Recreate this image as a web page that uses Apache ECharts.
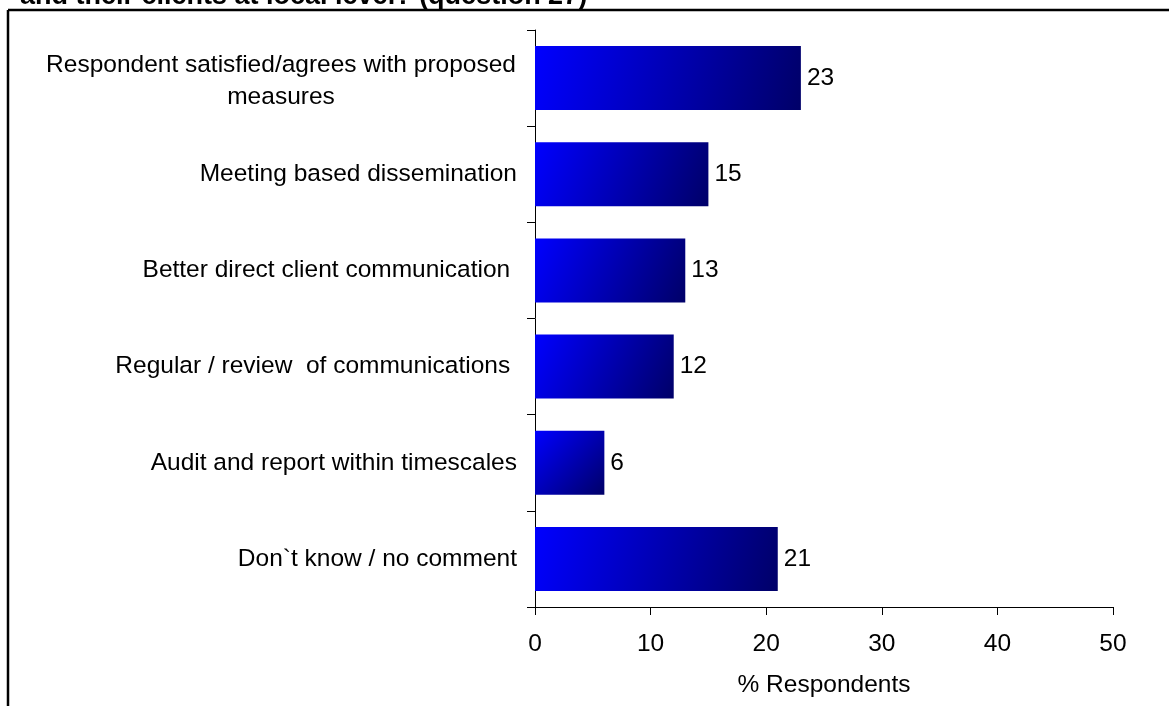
<!DOCTYPE html>
<html>
<head>
<meta charset="utf-8">
<script src="https://cdn.jsdelivr.net/npm/echarts@6/dist/echarts.min.js"></script>
<style>
  html, body { margin: 0; padding: 0; background: #fff; }
  #chart { width: 1169px; height: 706px; }
</style>
</head>
<body>
<div id="chart"></div>
<script>
// Survey answers (top to bottom) and share of respondents giving each one
var categories = [
  'Respondent satisfied/agrees with proposed\nmeasures',
  'Meeting based dissemination',
  'Better direct client communication ',
  'Regular / review  of communications ',
  'Audit and report within timescales',
  'Don`t know / no comment'
];
var percentRespondents = [23, 15, 13, 12, 6, 21];
var xTicks = [0, 10, 20, 30, 40, 50];
var chartTitle = 'and their clients at local level? (question 27)';
var xAxisName = '% Respondents';

var FONT = '"Liberation Sans", Arial, sans-serif';
var FS = 24.5;

var chart = echarts.init(document.getElementById('chart'), null, { renderer: 'canvas' });

// blue fading to navy towards the lower right of each bar
var barFill = {
  type: 'linear', x: 0, y: 0, x2: 1, y2: 1,
  colorStops: [
    { offset: 0, color: '#0000ff' },
    { offset: 1, color: '#000068' }
  ]
};

chart.setOption({
  backgroundColor: '#ffffff',
  animation: false,
  textStyle: { fontFamily: FONT, color: '#000' },
  grid: { left: 535, right: 56, top: 30, bottom: 99, containLabel: false },
  xAxis: {
    type: 'value',
    min: xTicks[0],
    max: xTicks[xTicks.length - 1],
    interval: xTicks[1] - xTicks[0],
    name: xAxisName,
    nameLocation: 'middle',
    nameGap: 66,
    nameTextStyle: { fontFamily: FONT, fontSize: FS, color: '#000' },
    axisLine: { show: true, lineStyle: { color: '#000', width: 1 } },
    axisTick: { show: true, length: 8, inside: false, lineStyle: { color: '#000' } },
    splitLine: { show: false },
    axisLabel: { fontFamily: FONT, fontSize: FS, color: '#000', margin: 25 }
  },
  yAxis: {
    type: 'category',
    inverse: true,
    data: categories,
    axisLine: { show: true, lineStyle: { color: '#000', width: 1 } },
    axisTick: { show: true, length: 8, inside: false, alignWithLabel: false, lineStyle: { color: '#000' } },
    splitLine: { show: false },
    axisLabel: {
      fontFamily: FONT,
      fontSize: FS,
      color: '#000',
      margin: 18,
      formatter: function (value) {
        if (value.indexOf('\n') >= 0) {
          return value.split('\n').map(function (line) { return '{c|' + line + '}'; }).join('\n');
        }
        return value;
      },
      rich: {
        // wrapped label: lines centred on each other, sitting low in their line boxes
        c: { fontFamily: FONT, fontSize: FS, color: '#000', width: 472, align: 'center', lineHeight: 32, verticalAlign: 'bottom' }
      }
    }
  },
  series: [{
    type: 'bar',
    data: percentRespondents,
    barWidth: 64,
    itemStyle: { color: barFill },
    label: {
      show: true,
      position: 'right',
      distance: 6,
      fontFamily: FONT,
      fontSize: FS,
      color: '#000'
    }
  }],
  graphic: [
    {
      type: 'text',
      left: 20,
      top: -17,
      style: {
        text: chartTitle,
        font: 'bold 27px ' + FONT,
        fill: '#000'
      }
    },
    {
      type: 'line',
      shape: { x1: 8, y1: 10, x2: 1169, y2: 10 },
      style: { stroke: '#000', lineWidth: 2.5 }
    },
    {
      type: 'line',
      shape: { x1: 8, y1: 10, x2: 8, y2: 706 },
      style: { stroke: '#000', lineWidth: 2.5 }
    }
  ]
});
</script>
</body>
</html>
